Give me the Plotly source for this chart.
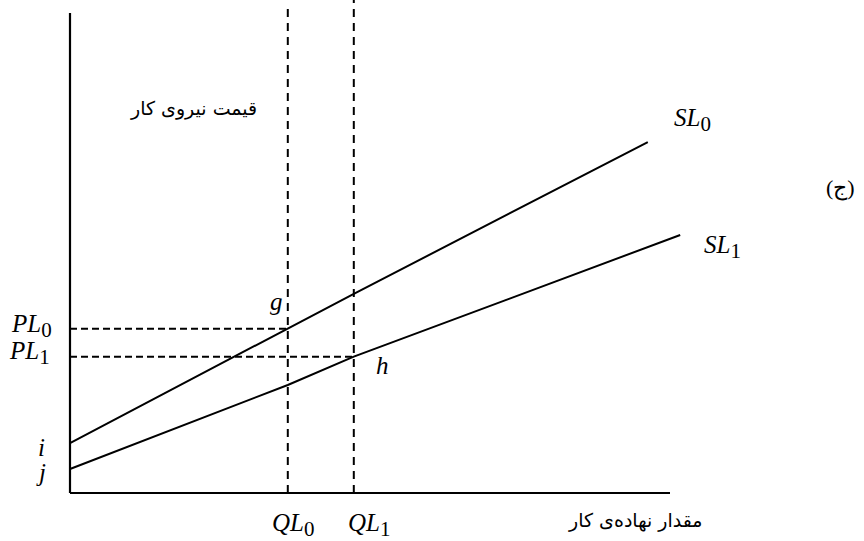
import plotly.graph_objects as go

# Economic diagram data (units: quantity 0..100, price 0..100)
ql = [36.3, 47.3]            # QL0, QL1
pl = [34.2, 28.4]            # PL0, PL1
sl0_x = [0, 36.3, 47.3, 96.3]
sl0_y = [10.4, 34.2, 41.5, 73.1]
sl1_x = [0, 36.3, 47.3, 101.7]
sl1_y = [5.0, 22.5, 28.4, 53.75]
axis_x_end = 100
axis_y_end = 100
vline_tops = [101.7, 102.7]

serif = "Liberation Serif"
persian = "DejaVu Sans"

fig = go.Figure()
line = dict(color="black", width=2)
vdash = dict(color="black", width=2, dash="8px,6px")
hdash = dict(color="black", width=2, dash="7px,4px")

# axes
fig.add_trace(go.Scatter(x=[0, 0], y=[0, axis_y_end], mode="lines", line=dict(color="black", width=2.2)))
fig.add_trace(go.Scatter(x=[0, axis_x_end], y=[0, 0], mode="lines", line=dict(color="black", width=2.2)))
# supply curves
fig.add_trace(go.Scatter(x=sl0_x, y=sl0_y, mode="lines", line=line))
fig.add_trace(go.Scatter(x=sl1_x, y=sl1_y, mode="lines", line=line))
# dashed guides
for q, top in zip(ql, vline_tops):
    fig.add_trace(go.Scatter(x=[q, q], y=[0, top], mode="lines", line=vdash))
for q, p in zip(ql, pl):
    fig.add_trace(go.Scatter(x=[0, q], y=[p, p], mode="lines", line=hdash))

def px2x(px):
    return (px - 70) / 6.0

def px2y(py):
    return (493 - py) / 4.8

def sym(base, sub):
    return f"<i>{base}</i><sub><span style='font-size:21px'>{sub}</span></sub>"

labels = [
    (sym("SL", "0"), 692, 120, serif, 25),
    (sym("SL", "1"), 722, 247, serif, 25),
    (sym("PL", "0"), 31, 326, serif, 25),
    (sym("PL", "1"), 29, 353, serif, 25),
    (sym("QL", "0"), 293, 525, serif, 25),
    (sym("QL", "1"), 369, 525, serif, 25),
    ("<i>g</i>", 276, 301, serif, 25),
    ("<i>h</i>", 382, 365, serif, 25),
    ("<i>i</i>", 41, 447, serif, 25),
    ("<i>j</i>", 41, 472, serif, 25),
    ("(ج)", 840, 188, serif, 22),
    ("قیمت نیروی کار", 193, 108, persian, 19),
    ("مقدار نهاده‌ی کار", 635, 520, persian, 19),
]
for txt, x, y, fam, sz in labels:
    fig.add_annotation(x=px2x(x), y=px2y(y), text=txt, showarrow=False,
                       font=dict(family=fam, size=sz, color="black"),
                       xanchor="center", yanchor="middle")

fig.update_layout(
    width=864, height=541,
    margin=dict(l=0, r=0, t=0, b=0),
    paper_bgcolor="white", plot_bgcolor="white",
    showlegend=False,
    xaxis=dict(range=[px2x(0), px2x(864)], visible=False, fixedrange=True),
    yaxis=dict(range=[px2y(541), px2y(0)], visible=False, fixedrange=True),
)
fig.write_html("out.html", config={"displayModeBar": False},
               post_script="document.body.style.margin='0';document.body.style.overflow='hidden';")
